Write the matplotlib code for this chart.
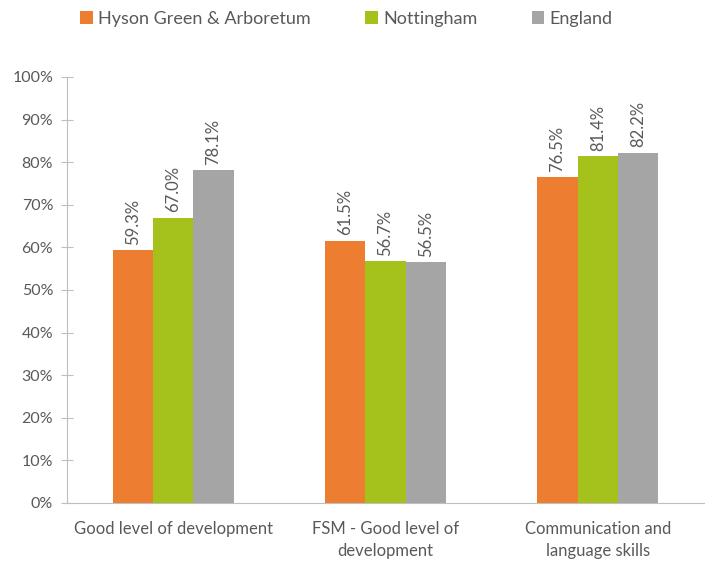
import matplotlib
matplotlib.use("Agg")
import matplotlib.pyplot as plt
import numpy as np

categories = ["Good level of development", "FSM - Good level of\ndevelopment", "Communication and\nlanguage skills"]
series_names = ["Hyson Green & Arboretum", "Nottingham", "England"]
hyson = [59.3, 61.5, 76.5]
nottingham = [67.0, 56.7, 81.4]
england = [78.1, 56.5, 82.2]
colors = ["#ED7D31", "#A5C11B", "#A5A5A5"]
yticks = [0, 10, 20, 30, 40, 50, 60, 70, 80, 90, 100]

plt.rcParams['font.family'] = ['Lato', 'DejaVu Sans']
text_color = "#595959"

fig = plt.figure(figsize=(7.07, 5.62), dpi=100)
ax = fig.add_axes([0.0948, 0.105, 0.901, 0.758])

x = np.arange(len(categories))
w = 0.19
handles = []
for i, (vals, c, name) in enumerate(zip([hyson, nottingham, england], colors, series_names)):
    pos = x + (i - 1) * w
    b = ax.bar(pos, vals, width=w, color=c, label=name)
    handles.append(b)
    for px, v in zip(pos, vals):
        ax.text(px, v + 1.3, f"{v:.1f}%", rotation=90, ha="center", va="bottom",
                fontsize=12, color=text_color)

ax.set_xlim(-0.5, 2.5)
ax.set_ylim(0, 100)
ax.set_yticks(yticks)
ax.set_yticklabels([f"{t}%" for t in yticks], fontsize=11.5, color=text_color)
ax.set_xticks(x)
ax.set_xticklabels(categories, fontsize=12, color=text_color, linespacing=1.45)
ax.tick_params(axis='x', length=0, pad=13)
ax.tick_params(axis='y', direction='inout', length=8, color="#BFBFBF", pad=6)
for s in ["top", "right"]:
    ax.spines[s].set_visible(False)
ax.spines["left"].set_color("#BFBFBF")
ax.spines["bottom"].set_color("#BFBFBF")

fig.legend(handles=handles, labels=series_names, loc="upper center", bbox_to_anchor=(0.49, 1.01),
           ncol=3, frameon=False, fontsize=13, handlelength=0.7, handleheight=0.7,
           handletextpad=0.3, columnspacing=3.0, labelcolor=text_color)

fig.savefig("out.png", dpi=100)
